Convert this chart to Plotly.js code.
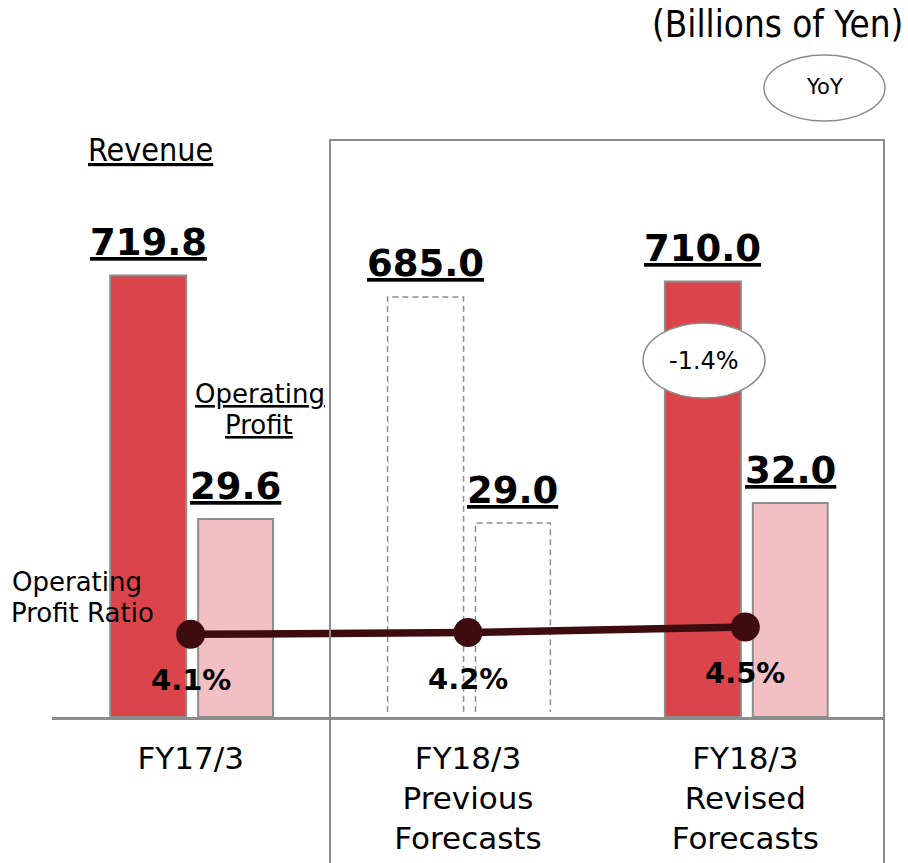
<!DOCTYPE html>
<html><head><meta charset="utf-8">
<script src="https://cdn.plot.ly/plotly-3.0.1.min.js"></script>
<style>html,body{margin:0;padding:0;background:#fff}#chart{width:908px;height:863px}</style>
</head><body><div id="chart"></div>
<script>
// ---- data ----
const categories = ['FY17/3', 'FY18/3<br>Previous<br>Forecasts', 'FY18/3<br>Revised<br>Forecasts'];
const revenue = [719.8, 685.0, 710.0];
const operatingProfit = [29.6, 29.0, 32.0];
const opRatio = [4.1, 4.2, 4.5];
const revenueYoY = [null, null, -1.4];
const isPrevious = [false, true, false];

// ---- layout geometry ----
const W = 908, H = 863, L = 52, R = 24, T = 140, B = 146;
const pw = W - L - R, ph = H - T - B;
const pX = px => (px - L) / pw;
const pY = py => (H - B - py) / ph;

const REV_OFF = -0.29, REV_W = 0.274, OP_OFF = 0.027, OP_W = 0.27;
const REV_COLOR = '#DB444B', OP_COLOR = '#F2C0C3', EDGE = '#8C8C8C', LINE = '#3E0C0F';
const FONT = 'DejaVu Sans', FONTC = 'DejaVu Sans Condensed';
const x = categories.map((_, i) => i);

const revTrace = {
  type: 'bar', x: x, y: revenue, xaxis: 'x', yaxis: 'y', offset: REV_OFF, width: REV_W,
  marker: { color: isPrevious.map(p => p ? 'rgba(0,0,0,0)' : REV_COLOR),
            line: { color: EDGE, width: isPrevious.map(p => p ? 0 : 2) } },
  hoverinfo: 'skip', showlegend: false
};
const opTrace = {
  type: 'bar', x: x, y: operatingProfit, xaxis: 'x', yaxis: 'y2', offset: OP_OFF, width: OP_W,
  marker: { color: isPrevious.map(p => p ? 'rgba(0,0,0,0)' : OP_COLOR),
            line: { color: EDGE, width: isPrevious.map(p => p ? 0 : 2) } },
  hoverinfo: 'skip', showlegend: false
};
const ratioTrace = {
  type: 'scatter', mode: 'lines+markers', x: x, y: opRatio, xaxis: 'x', yaxis: 'y3',
  line: { color: LINE, width: 7.5 }, marker: { color: LINE, size: 29 },
  hoverinfo: 'skip', showlegend: false, cliponaxis: false
};

const shapes = [];
// dashed outlines for previous forecast bars
x.forEach(i => {
  if (!isPrevious[i]) return;
  const a = i + REV_OFF, b = i + REV_OFF + REV_W;
  shapes.push({ type: 'path', xref: 'x', yref: 'y', layer: 'below',
    path: `M ${a},8 L ${a},${revenue[i]} L ${b},${revenue[i]} L ${b},8`,
    line: { color: EDGE, width: 1.5, dash: '6px,4px' } });
  const c = i + OP_OFF, d = i + OP_OFF + OP_W;
  shapes.push({ type: 'path', xref: 'x', yref: 'y2', layer: 'below',
    path: `M ${c},0.75 L ${c},${operatingProfit[i]} L ${d},${operatingProfit[i]} L ${d},0.75`,
    line: { color: EDGE, width: 1.5, dash: '6px,4px' } });
});
// frame around forecasts
shapes.push({ type: 'path', xref: 'paper', yref: 'paper', layer: 'above',
  path: `M ${pX(330)},${pY(875)} L ${pX(330)},1 L 1,1 L 1,${pY(875)}`,
  line: { color: EDGE, width: 2 } });
// YoY legend ellipse
shapes.push({ type: 'circle', xref: 'paper', yref: 'paper', layer: 'above',
  x0: pX(764), x1: pX(885), y0: pY(121), y1: pY(55),
  fillcolor: '#fff', line: { color: EDGE, width: 1.5 } });

const annotations = [];
const ann = (o) => annotations.push(Object.assign({ showarrow: false, xanchor: 'center', yanchor: 'middle' }, o));

// revenue YoY ellipse
x.forEach(i => {
  if (revenueYoY[i] === null) return;
  shapes.push({ type: 'circle', xref: 'paper', yref: 'paper', layer: 'above',
    x0: pX(643), x1: pX(765), y0: pY(398), y1: pY(323),
    fillcolor: '#fff', line: { color: EDGE, width: 1.5 } });
  ann({ xref: 'paper', yref: 'paper', x: pX(704), y: pY(361), text: revenueYoY[i].toFixed(1) + '%',
    font: { family: FONT, size: 24, color: '#000' } });
});

// value labels
x.forEach(i => {
  ann({ xref: 'x', yref: 'y', x: i + REV_OFF + REV_W / 2, y: revenue[i], yshift: 33,
    text: '<u>' + revenue[i].toFixed(1) + '</u>', font: { family: FONT, size: 37, weight: 'bold', color: '#000' } });
  ann({ xref: 'x', yref: 'y2', x: i + OP_OFF + OP_W / 2, y: operatingProfit[i], yshift: 33,
    text: '<u>' + operatingProfit[i].toFixed(1) + '</u>', font: { family: FONT, size: 37, weight: 'bold', color: '#000' } });
  ann({ xref: 'x', yref: 'y3', x: i, y: opRatio[i], yshift: -46,
    text: opRatio[i].toFixed(1) + '%', font: { family: FONT, size: 29, weight: 'bold', color: '#000' } });
});

// headers and series names
ann({ xref: 'paper', yref: 'paper', x: pX(905), y: pY(25), xanchor: 'right', text: '(Billions of Yen)',
  font: { family: FONTC, size: 36.5, color: '#000' } });
ann({ xref: 'paper', yref: 'paper', x: pX(824.5), y: pY(87), text: 'YoY',
  font: { family: FONT, size: 21, color: '#000' } });
ann({ xref: 'paper', yref: 'paper', x: pX(150), y: pY(150), text: '<u>Revenue</u>',
  font: { family: FONTC, size: 32, color: '#000' } });
ann({ xref: 'paper', yref: 'paper', x: pX(260), y: pY(394), text: '<u>Operating</u>',
  font: { family: FONT, size: 26, color: '#000' } });
ann({ xref: 'paper', yref: 'paper', x: pX(259), y: pY(425), text: '<u>Profit</u>',
  font: { family: FONT, size: 26, color: '#000' } });
ann({ xref: 'paper', yref: 'paper', x: pX(10), y: pY(582), xanchor: 'left', text: 'Operating',
  font: { family: FONT, size: 26, color: '#000' } });
ann({ xref: 'paper', yref: 'paper', x: pX(9), y: pY(612.5), xanchor: 'left', text: 'Profit Ratio',
  font: { family: FONT, size: 26, color: '#000' } });

const layout = {
  width: W, height: H, margin: { l: L, r: R, t: T, b: B, pad: 0 },
  paper_bgcolor: '#fff', plot_bgcolor: '#fff', showlegend: false,
  xaxis: { range: [-0.5, 2.5], tickvals: x, ticktext: categories, showgrid: false, zeroline: false,
    showline: true, linecolor: EDGE, linewidth: 2.5, ticks: '', fixedrange: true, ticklabelstandoff: 12,
    tickfont: { family: FONT, size: 31, color: '#000' } },
  yaxis: { range: [0, 940.8], visible: false, fixedrange: true },
  yaxis2: { range: [0, 86.28], overlaying: 'y', visible: false, fixedrange: true },
  yaxis3: { range: [-0.472, 31.44], overlaying: 'y', visible: false, fixedrange: true },
  shapes: shapes, annotations: annotations
};

Plotly.newPlot('chart', [revTrace, opTrace, ratioTrace], layout, { staticPlot: true, displayModeBar: false });
</script></body></html>
